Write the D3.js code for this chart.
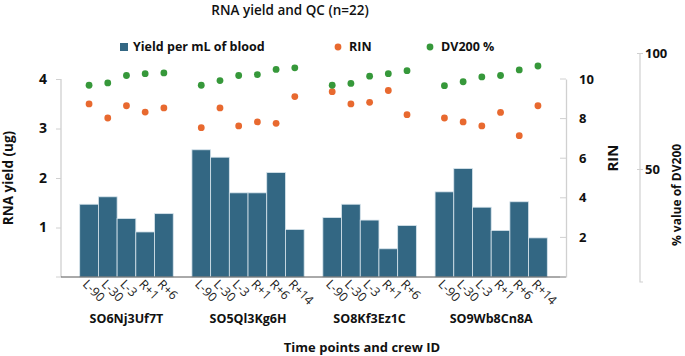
<!DOCTYPE html>
<html>
<head>
<meta charset="utf-8">
<script src="https://cdn.jsdelivr.net/npm/d3@7"></script>
<style>
  body { margin: 0; background: #fff; }
  text { font-family: "Open Sans", sans-serif; }
</style>
</head>
<body>
<div id="chart"></div>
<script>
// crews and their time points
const crews = ["SO6Nj3Uf7T", "SO5Ql3Kg6H", "SO8Kf3Ez1C", "SO9Wb8Cn8A"];
const timePoints = [
    ["L-90", "L-30", "L-3", "R+1", "R+6"],
    ["L-90", "L-30", "L-3", "R+1", "R+6", "R+14"],
    ["L-90", "L-30", "L-3", "R+1", "R+6"],
    ["L-90", "L-30", "L-3", "R+1", "R+6", "R+14"]
];
// yield per mL of blood (ug)
const yieldVals = [
    [1.47, 1.62, 1.18, 0.91, 1.28],
    [2.57, 2.42, 1.70, 1.70, 2.11, 0.96],
    [1.20, 1.47, 1.15, 0.57, 1.04],
    [1.72, 2.19, 1.41, 0.94, 1.52, 0.79]
];
const rinVals = [
    [8.74, 8.03, 8.65, 8.33, 8.54],
    [7.54, 8.54, 7.63, 7.83, 7.76, 9.11],
    [9.36, 8.74, 8.82, 9.42, 8.20],
    [8.03, 7.83, 7.63, 8.31, 7.14, 8.65]
];
const dv200Vals = [
    [86.1, 87.1, 90.3, 91.1, 91.4],
    [86.1, 88.1, 90.3, 90.7, 92.9, 93.6],
    [86.1, 86.9, 90.0, 91.1, 92.4],
    [85.9, 87.6, 89.7, 90.3, 92.7, 94.4]
];
const yieldTicks = [1, 2, 3, 4];
const rinTicks = [2, 4, 6, 8, 10];
const dvTicks = [50, 100];

function init() {
    const W = 685, H = 356;
    const plot = { left: 61, right: 566, top: 79, bottom: 277 };

    const svg = d3.select("#chart").append("svg")
        .attr("width", W).attr("height", H);

    // flatten, with an empty slot before, between and after crews
    const rows = [];
    const domain = ["gap0"];
    crews.forEach((c, ci) => {
        timePoints[ci].forEach((t, ti) => {
            const key = c + "|" + t;
            domain.push(key);
            rows.push({ crew: c, ci, tp: t, key,
                yld: yieldVals[ci][ti], rin: rinVals[ci][ti], dv: dv200Vals[ci][ti] });
        });
        domain.push("gap" + (ci + 1));
    });

    const x = d3.scaleBand().domain(domain).range([plot.left, plot.right]).padding(0);
    const y = d3.scaleLinear().domain([0, 4]).range([plot.bottom, plot.top]);
    const yRin = d3.scaleLinear().domain([0, 10]).range([plot.bottom, plot.top]);
    const yDv = d3.scaleLinear().domain([0, 100]).range([285, 53]);

    const barColor = "#336783", rinColor = "#E8692F", dvColor = "#36983A";

    // bars
    svg.append("g").selectAll("rect")
        .data(rows).join("rect")
        .attr("x", d => x(d.key))
        .attr("y", d => y(d.yld))
        .attr("width", x.bandwidth())
        .attr("height", d => y(0) - y(d.yld))
        .attr("fill", barColor)
        .attr("stroke", "#d6e4ec")
        .attr("stroke-width", 0.8);

    // RIN dots
    svg.append("g").selectAll("circle")
        .data(rows).join("circle")
        .attr("cx", d => x(d.key) + x.bandwidth() / 2)
        .attr("cy", d => yRin(d.rin))
        .attr("r", 3.4)
        .attr("fill", rinColor);

    // DV200 dots
    svg.append("g").selectAll("circle")
        .data(rows).join("circle")
        .attr("cx", d => x(d.key) + x.bandwidth() / 2)
        .attr("cy", d => yDv(d.dv))
        .attr("r", 3.4)
        .attr("fill", dvColor);

    // left axis
    const gl = svg.append("g")
        .attr("transform", `translate(${plot.left},0)`)
        .call(d3.axisLeft(y).tickValues(yieldTicks).tickFormat(d3.format("d"))
            .tickSize(5).tickPadding(9).tickSizeOuter(0));
    gl.select(".domain").attr("stroke", "#d0d0d0").attr("stroke-width", 1.3)
        .attr("d", `M0,${plot.bottom}V${plot.top}`);
    gl.selectAll(".tick line").attr("stroke", "#d0d0d0");
    gl.selectAll(".tick text").attr("font-size", 14).attr("font-weight", "bold").attr("fill", "#111");
    gl.append("g").selectAll("line").data([0]).join("line")
        .attr("x1", -5).attr("x2", 0).attr("y1", d => y(d)).attr("y2", d => y(d))
        .attr("stroke", "#d0d0d0");

    // bottom axis line
    svg.append("line")
        .attr("x1", plot.left).attr("x2", plot.right)
        .attr("y1", plot.bottom).attr("y2", plot.bottom)
        .attr("stroke", "#555").attr("stroke-width", 1);

    // RIN axis
    const gr = svg.append("g")
        .attr("transform", `translate(${plot.right},0)`)
        .call(d3.axisRight(yRin).tickValues(rinTicks).tickSize(0).tickPadding(13).tickSizeOuter(0));
    gr.select(".domain").attr("stroke", "#d0d0d0").attr("stroke-width", 1.3);
    gr.selectAll(".tick text").attr("font-size", 13).attr("font-weight", "bold").attr("fill", "#111");
    gr.append("g").selectAll("line").data(rinTicks.concat([0])).join("line")
        .attr("x1", -6).attr("x2", 0).attr("y1", d => yRin(d)).attr("y2", d => yRin(d))
        .attr("stroke", "#d0d0d0");

    // DV200 axis
    const gd = svg.append("g")
        .attr("transform", "translate(640,0)")
        .call(d3.axisRight(yDv).tickValues(dvTicks).tickSize(3).tickPadding(2).tickSizeOuter(0));
    gd.select(".domain").attr("stroke", "#d0d0d0").attr("stroke-width", 1.2)
        .attr("d", "M0,53V282h3");
    gd.selectAll(".tick line").attr("stroke", "#d0d0d0").attr("x1", -3);
    gd.selectAll(".tick text").attr("font-size", 13).attr("font-weight", "bold").attr("fill", "#111");

    // time point labels
    svg.append("g").selectAll("text")
        .data(rows).join("text")
        .attr("transform", d => `translate(${x(d.key) + x.bandwidth() / 2 - 7},${plot.bottom + 8}) rotate(45)`)
        .attr("font-size", 12.5)
        .attr("fill", "#222")
        .text(d => d.tp);

    // crew labels
    svg.append("g").selectAll("text")
        .data(crews).join("text")
        .attr("x", (c, ci) => {
            const ks = timePoints[ci].map(t => c + "|" + t);
            return (x(ks[0]) + x(ks[ks.length - 1]) + x.bandwidth()) / 2;
        })
        .attr("y", 323)
        .attr("text-anchor", "middle")
        .attr("font-size", 12.5)
        .attr("font-weight", "bold")
        .attr("fill", "#111")
        .text(d => d);

    // axis titles
    svg.append("text")
        .attr("x", 362).attr("y", 352)
        .attr("text-anchor", "middle")
        .attr("font-size", 13).attr("font-weight", "bold").attr("fill", "#111")
        .text("Time points and crew ID");

    svg.append("text")
        .attr("transform", "translate(13,178) rotate(-90)")
        .attr("text-anchor", "middle")
        .attr("font-size", 13.5).attr("font-weight", "bold").attr("fill", "#111")
        .text("RNA yield (ug)");

    svg.append("text")
        .attr("transform", "translate(618,158) rotate(-90)")
        .attr("text-anchor", "middle")
        .attr("font-size", 15).attr("font-weight", "bold").attr("fill", "#111")
        .text("RIN");

    svg.append("text")
        .attr("transform", "translate(681,195) rotate(-90)")
        .attr("text-anchor", "middle")
        .attr("font-size", 12).attr("font-weight", "bold").attr("fill", "#111")
        .text("% value of DV200");

    // title
    svg.append("text")
        .attr("x", 290).attr("y", 15)
        .attr("text-anchor", "middle")
        .attr("font-size", 13.5).attr("font-weight", 600).attr("fill", "#111")
        .text("RNA yield and QC (n=22)");

    // legend
    const legend = [
        { label: "Yield per mL of blood", x: 124, type: "rect", color: barColor },
        { label: "RIN", x: 338, type: "dot", color: rinColor },
        { label: "DV200 %", x: 430, type: "dot", color: dvColor }
    ];
    const lg = svg.append("g").selectAll("g").data(legend).join("g")
        .attr("transform", d => `translate(${d.x},47)`);
    lg.filter(d => d.type === "rect").append("rect")
        .attr("x", -4).attr("y", -4).attr("width", 8).attr("height", 8)
        .attr("fill", d => d.color);
    lg.filter(d => d.type === "dot").append("circle")
        .attr("r", 3.4).attr("fill", d => d.color);
    lg.append("text")
        .attr("x", d => d.type === "rect" ? 9 : 11)
        .attr("dy", "0.35em")
        .attr("font-size", 12.5).attr("font-weight", "bold").attr("fill", "#111")
        .text(d => d.label);
}

window.onload = init;
</script>
</body>
</html>
